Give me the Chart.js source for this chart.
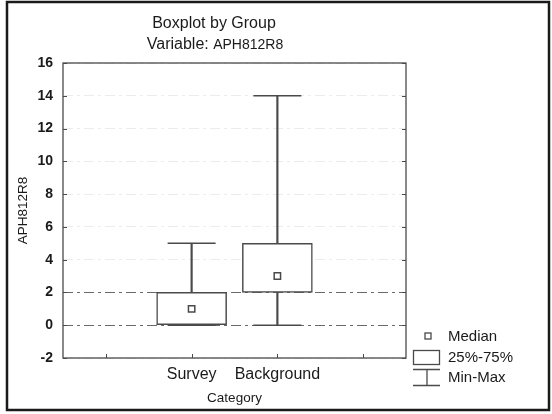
<!DOCTYPE html>
<html>
<head>
<meta charset="utf-8">
<script src="https://cdn.jsdelivr.net/npm/chart.js@4.4.1/dist/chart.umd.min.js"></script>
<style>
  html, body { margin: 0; padding: 0; background: #fff; }
  #wrap { width: 552px; height: 414px; }
</style>
</head>
<body>
<div id="wrap"><canvas id="chart" width="552" height="414"></canvas></div>
<script>
const categories = ['Survey', 'Background'];
const minValues = [0, 0];
const q1Values = [0, 2];
const medianValues = [1, 3];
const q3Values = [2, 5];
const maxValues = [5, 14];
const yTicks = [-2, 0, 2, 4, 6, 8, 10, 12, 14, 16];
const xTickMarks = [0, 1, 2, 3];

const lineColor = '#4a4a4a';
const textColor = '#1a1a1a';
const family = 'Arial, "Liberation Sans", sans-serif';

// build box plot pieces from the arrays
const xPositions = categories.map((c, i) => i + 1);
const boxData = categories.map((c, i) => ({x: i + 1, y: [q1Values[i], q3Values[i]]}));
const whiskerData = categories.map((c, i) => ({x: i + 1, y: [minValues[i], maxValues[i]]}));
const medianData = categories.map((c, i) => ({x: i + 1, y: medianValues[i]}));
const capData = [];
categories.forEach((c, i) => {
	capData.push({x: i + 1, y: minValues[i]});
	capData.push({x: i + 1, y: maxValues[i]});
});

const decor = {
	id: 'decor',
	beforeDraw(chart) {
		const ctx = chart.ctx;
		ctx.save();
		ctx.fillStyle = '#fff';
		ctx.fillRect(0, 0, chart.width, chart.height);
		ctx.restore();
	},
	afterDraw(chart) {
		const {ctx, chartArea, scales} = chart;
		const {left, right, top, bottom} = chartArea;
		ctx.save();

		// plot frame
		ctx.strokeStyle = lineColor;
		ctx.lineWidth = 1.3;
		ctx.strokeRect(left, top, right - left, bottom - top);

		// small inside tick marks
		ctx.lineWidth = 1;
		ctx.beginPath();
		yTicks.forEach(v => {
			const py = Math.round(scales.y.getPixelForValue(v)) + 0.5;
			ctx.moveTo(left, py); ctx.lineTo(left + 4, py);
			ctx.moveTo(right - 4, py); ctx.lineTo(right, py);
		});
		xTickMarks.forEach(v => {
			const px = Math.round(scales.x.getPixelForValue(v)) + 0.5;
			ctx.moveTo(px, bottom); ctx.lineTo(px, bottom - 4);
		});
		ctx.stroke();

		// outer frame
		ctx.strokeStyle = '#1a1a1a';
		ctx.lineWidth = 2.5;
		ctx.strokeRect(7, 2, 542, 408);

		// titles
		ctx.fillStyle = textColor;
		ctx.textBaseline = 'middle';
		ctx.textAlign = 'center';
		ctx.font = '16px ' + family;
		ctx.fillText('Boxplot by Group', 214, 24);

		const p1 = 'Variable: ', p2 = 'APH812R8';
		const w1 = ctx.measureText(p1).width;
		ctx.font = '14px ' + family;
		const w2 = ctx.measureText(p2).width;
		let x = 215 - (w1 + w2) / 2;
		ctx.textAlign = 'left';
		ctx.font = '16px ' + family;
		ctx.fillText(p1, x, 45);
		ctx.font = '14px ' + family;
		ctx.fillText(p2, x + w1, 45.5);

		// legend
		ctx.strokeStyle = lineColor;
		ctx.lineWidth = 1.3;
		ctx.strokeRect(425, 333, 6, 6);
		ctx.strokeRect(413.5, 350.5, 26, 14);
		ctx.beginPath();
		ctx.moveTo(413, 369.5); ctx.lineTo(440, 369.5);
		ctx.moveTo(413, 385.5); ctx.lineTo(440, 385.5);
		ctx.moveTo(427, 369.5); ctx.lineTo(427, 385.5);
		ctx.stroke();

		ctx.fillStyle = textColor;
		ctx.font = '15px ' + family;
		ctx.textBaseline = 'middle';
		ctx.fillText('Median', 448, 337);
		ctx.fillText('25%-75%', 448, 358);
		ctx.fillText('Min-Max', 448, 378);
		ctx.restore();
	}
};

new Chart(document.getElementById('chart'), {
	type: 'bar',
	data: {
		datasets: [
			{
				type: 'line',
				label: 'Median',
				data: medianData,
				showLine: false,
				pointStyle: 'rect',
				pointRadius: 4.5,
				pointBackgroundColor: '#fff',
				pointBorderColor: lineColor,
				pointBorderWidth: 1.5
			},
			{
				label: '25%-75%',
				data: boxData,
				backgroundColor: '#fff',
				borderColor: lineColor,
				borderWidth: 1.5,
				borderSkipped: false,
				barThickness: 70,
				grouped: false
			},
			{
				type: 'line',
				label: 'caps',
				data: capData,
				showLine: false,
				pointStyle: 'line',
				pointRadius: 24,
				pointBorderColor: lineColor,
				pointBorderWidth: 1.5
			},
			{
				label: 'Min-Max',
				data: whiskerData,
				backgroundColor: lineColor,
				borderWidth: 0,
				barThickness: 1.5,
				grouped: false
			}
		]
	},
	options: {
		responsive: false,
		animation: false,
		events: [],
		layout: {
			padding: {left: 8, right: 146, top: 63, bottom: 6}
		},
		plugins: {
			legend: {display: false},
			tooltip: {enabled: false},
			title: {display: false}
		},
		scales: {
			x: {
				type: 'linear',
				min: -0.5,
				max: 3.5,
				offset: false,
				afterBuildTicks: s => { s.ticks = xPositions.map(v => ({value: v})); },
				grid: {display: false, drawTicks: false, offset: false},
				border: {display: false},
				ticks: {
					autoSkip: false,
					maxRotation: 0,
					padding: 7,
					color: textColor,
					font: {size: 16, family: family},
					callback: v => categories[v - 1] || ''
				},
				title: {
					display: true,
					text: 'Category',
					color: textColor,
					font: {size: 13.5, family: family},
					padding: {top: 0, bottom: 2}
				},
				afterFit: s => { s.height = 50; }
			},
			y: {
				min: -2,
				max: 16,
				afterBuildTicks: s => { s.ticks = yTicks.map(v => ({value: v})); },
				grid: {
					drawTicks: false,
					lineWidth: 1,
					color: c => (c.tick && (c.tick.value === 0 || c.tick.value === 2)) ? '#6a6a6a' : '#ececec'
				},
				border: {display: false, dash: [10, 4, 3, 4]},
				ticks: {
					padding: 10,
					color: textColor,
					font: {size: 14, weight: 'bold', family: family}
				},
				title: {
					display: true,
					text: 'APH812R8',
					color: textColor,
					font: {size: 13.5, family: family},
					padding: {top: 7, bottom: 0}
				},
				afterFit: s => { s.width = 55; }
			}
		}
	},
	plugins: [decor]
});
</script>
</body>
</html>
